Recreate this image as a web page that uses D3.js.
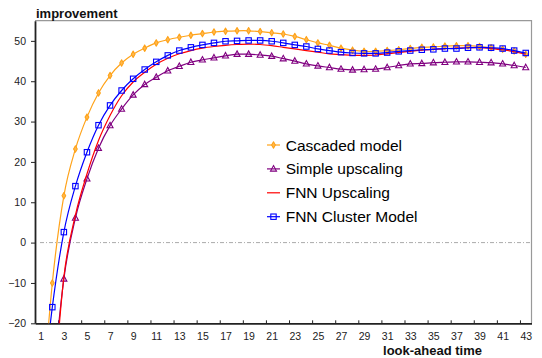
<!DOCTYPE html>
<html><head><meta charset="utf-8">
<script src="https://cdn.jsdelivr.net/npm/d3@7"></script>
<style>body{margin:0;background:#fff}svg{display:block;font-family:"Liberation Sans",Arial,sans-serif}</style>
</head><body><svg id="c" width="542" height="358"></svg>
<script>
const categories = d3.range(1, 44);
const xTickLabels = categories.filter(d => d % 2 === 1);
const xTickMarks = categories.filter(d => d % 2 === 0 && d < 43).map(d => d + 0.5);
const yTicks = [-20, -10, 0, 10, 20, 30, 40, 50];
const seriesNames = ["Cascaded model", "Simple upscaling", "FNN Upscaling", "FNN Cluster Model"];

const cascaded = [-45, -10, 11.6, 23.2, 31.1, 37.1, 41.4, 44.5, 46.7, 48.2, 49.5, 50.3, 50.9, 51.4, 51.8, 52.2, 52.4, 52.5, 52.5, 52.3, 52.0, 51.7, 51.1, 50.3, 49.5, 48.9, 48.2, 47.7, 47.4, 47.4, 47.6, 47.8, 48.1, 48.4, 48.5, 48.7, 48.8, 48.8, 48.6, 48.3, 47.9, 47.5, 46.7];
const simpleUpscaling = [-80, -38, -9, 6.1, 15.8, 23.4, 29.0, 33.1, 36.6, 39.2, 41.0, 42.6, 43.7, 44.7, 45.3, 45.8, 46.3, 46.7, 46.7, 46.5, 46.2, 45.6, 45.0, 44.3, 43.8, 43.4, 43.0, 42.8, 42.9, 43.0, 43.4, 43.9, 44.3, 44.4, 44.6, 44.7, 44.8, 44.8, 44.7, 44.6, 44.3, 43.9, 43.4];
const fnnUpscaling = [-80, -42, -8.5, 6.8, 17.0, 25.3, 31.5, 36.4, 39.8, 42.2, 44.2, 45.7, 46.8, 47.6, 48.2, 48.6, 48.9, 49.1, 49.2, 49.1, 48.8, 48.4, 48.0, 47.6, 47.2, 46.8, 46.6, 46.4, 46.4, 46.5, 46.8, 47.1, 47.4, 47.7, 47.9, 48.1, 48.2, 48.3, 48.3, 48.1, 47.8, 47.3, 46.7];
const fnnCluster = [-42, -16, 2.6, 14.0, 22.4, 29.1, 34.0, 37.7, 40.6, 42.9, 44.8, 46.4, 47.6, 48.4, 49.0, 49.5, 49.9, 50.0, 50.1, 50.1, 49.9, 49.5, 49.0, 48.6, 48.0, 47.6, 47.2, 47.0, 46.9, 46.9, 47.1, 47.4, 47.6, 47.8, 47.9, 48.1, 48.1, 48.3, 48.4, 48.3, 48.1, 47.6, 47.0];

const L = 35, R = 531.5, T = 20.7, B = 323.3;
const svg = d3.select("#c");
const x = d3.scaleLinear().domain([0.5, 43.5]).range([L, R]);
const y = d3.scaleLinear().domain([-20, 55]).range([B, T]);

svg.append("defs").append("clipPath").attr("id", "clip")
  .append("rect").attr("x", L).attr("y", T).attr("width", R - L).attr("height", B - T);

// frame top/right
svg.append("path").attr("d", `M${L},${T}H${R}V${B}`).attr("fill", "none").attr("stroke", "#999").attr("stroke-width", 1.2);

// zero line
svg.append("line").attr("x1", L + 5).attr("x2", R).attr("y1", y(0)).attr("y2", y(0))
  .attr("stroke", "#aaa").attr("stroke-width", 1).attr("stroke-dasharray", "4,2,1,2");

// axes
const gy = svg.append("g").attr("transform", `translate(${L},0)`)
  .call(d3.axisLeft(y).tickValues(yTicks).tickSize(4).tickSizeOuter(0).tickPadding(5));
gy.select(".domain").attr("stroke", "#222").attr("stroke-width", 1.8);
gy.selectAll(".tick line").attr("stroke", "#222");
gy.selectAll("text").attr("font-size", "10.5px").attr("fill", "#222").attr("font-family", '"Liberation Sans",Arial,sans-serif');

const gxl = svg.append("g").attr("transform", `translate(0,${B})`)
  .call(d3.axisBottom(x).tickValues(xTickLabels).tickSize(0).tickSizeOuter(0).tickPadding(9));
gxl.select(".domain").remove();
gxl.selectAll("text").attr("font-size", "10.5px").attr("fill", "#222").attr("font-family", '"Liberation Sans",Arial,sans-serif');

const gxt = svg.append("g").attr("transform", `translate(0,${B})`)
  .call(d3.axisBottom(x).tickValues(xTickMarks).tickSize(-3).tickSizeOuter(0).tickFormat(""));
gxt.select(".domain").attr("stroke", "#222").attr("stroke-width", 1.8);
gxt.selectAll(".tick line").attr("stroke", "#222");

// titles
svg.append("text").attr("x", 36).attr("y", 17.5).attr("font-weight", "bold").attr("font-size", "13px").attr("fill", "#111").text("improvement");
svg.append("text").attr("x", 482).attr("y", 355).attr("text-anchor", "end").attr("font-weight", "bold").attr("font-size", "13px").attr("fill", "#111").text("look-ahead time");

const series = [
  { name: seriesNames[0], values: cascaded, color: "#ffa31a", marker: "circle" },
  { name: seriesNames[1], values: simpleUpscaling, color: "#800080", marker: "triangle" },
  { name: seriesNames[2], values: fnnUpscaling, color: "#ff0000", marker: null },
  { name: seriesNames[3], values: fnnCluster, color: "#0000ff", marker: "square" }
];

const line = d3.line().x((d, i) => x(categories[i])).y(d => y(d)).curve(d3.curveCardinal.tension(0));
const plot = svg.append("g").attr("clip-path", "url(#clip)");

function drawMarker(g, type, color) {
  if (type === "circle") {
    g.append("path").attr("d", d3.symbol(d3.symbolDiamond, 12)()).attr("fill", "#ffb84d").attr("stroke", color).attr("stroke-width", 1.1).attr("stroke-linejoin", "round");
  } else if (type === "square") {
    g.append("rect").attr("x", -2.7).attr("y", -2.7).attr("width", 5.4).attr("height", 5.4).attr("fill", "none").attr("stroke", color).attr("stroke-width", 1.1);
  } else if (type === "triangle") {
    g.append("path").attr("d", "M0,-3.3L3,2.2L-3,2.2Z").attr("fill", "none").attr("stroke", color).attr("stroke-width", 1.1);
  }
}

series.forEach(s => {
  plot.append("path").attr("d", line(s.values)).attr("fill", "none").attr("stroke", s.color).attr("stroke-width", 1.2);
  if (s.marker) {
    s.values.forEach((v, i) => {
      if (v < -20) return;
      const g = plot.append("g").attr("transform", `translate(${x(categories[i])},${y(v)})`);
      drawMarker(g, s.marker, s.color);
    });
  }
});

// legend
const lg = svg.append("g");
series.forEach((s, i) => {
  const cy = 145 + i * 23.9;
  lg.append("line").attr("x1", 267).attr("x2", 280).attr("y1", cy).attr("y2", cy).attr("stroke", s.color).attr("stroke-width", 1.2);
  if (s.marker) {
    const g = lg.append("g").attr("transform", `translate(273.5,${cy})`);
    drawMarker(g, s.marker, s.color);
  }
  lg.append("text").attr("x", 285.7).attr("y", cy + 5.5).attr("font-size", "15.5px").attr("fill", "#000").text(s.name);
});
</script></body></html>
